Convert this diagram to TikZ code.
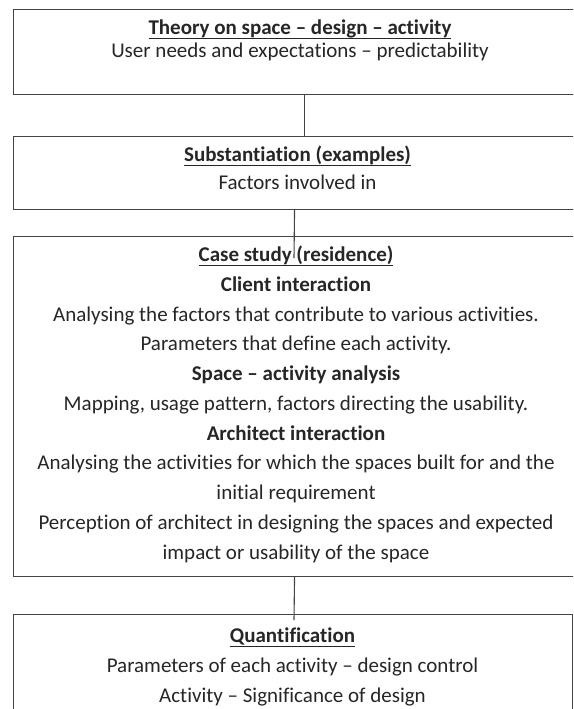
\documentclass[tikz,border=0pt]{standalone}
\usepackage{fontspec}
\setmainfont{Carlito}[Ligatures=NoCommon]
\newcommand\myul[1]{\setbox0\hbox{#1}\rlap{\rule[-4.8pt]{\wd0}{1.1pt}}\box0}
\definecolor{linec}{HTML}{444444}
\definecolor{txtc}{HTML}{262626}
\tikzset{
  boxnode/.style={draw=linec, line width=1.1pt, anchor=north west, inner sep=0pt},
  ln/.style={anchor=base, inner sep=0pt, text=txtc, font=\fontsize{21}{26}\selectfont},
  conn/.style={draw=linec, line width=1.1pt}
}
\begin{document}
\begin{tikzpicture}[x=1pt, y=-1pt]
\clip (0,0) rectangle (573,709);
\useasboundingbox (0,0) rectangle (573,709);
% boxes
\node[boxnode, minimum width=574pt, minimum height=85pt] (b1) at (13,9) {};
\node[boxnode, minimum width=569pt, minimum height=73pt] (b2) at (13,136) {};
\node[boxnode, minimum width=566pt, minimum height=340pt] (b3) at (13,236) {};
\node[boxnode, minimum width=559pt, minimum height=120pt] (b4) at (13,614) {};
% box 1 text
\node[ln] (t1a) at (300,34.5) {\textbf{\myul{Theory on space -- design -- activity}}};
\node[ln] (t1b) at (300,58) {User needs and expectations -- predictability};
% box 2 text
\node[ln] (t2a) at (297.5,161) {\textbf{\myul{Substantiation (examples)}}};
\node[ln] (t2b) at (297.5,189) {Factors involved in};
% box 3 text
\node[ln] (t3a) at (296,261.5) {\textbf{\myul{Case study (residence)}}};
\node[ln] (t3b) at (296,291.25) {\textbf{Client interaction}};
\node[ln] (t3c) at (296,321) {Analysing the factors that contribute to various activities.};
\node[ln] (t3d) at (296,350.75) {Parameters that define each activity.};
\node[ln] (t3e) at (296,380.5) {\textbf{Space -- activity analysis}};
\node[ln] (t3f) at (296,410.25) {Mapping, usage pattern, factors directing the usability.};
\node[ln] (t3g) at (296,440) {\textbf{Architect interaction}};
\node[ln] (t3h) at (296,469.75) {Analysing the activities for which the spaces built for and the};
\node[ln] (t3i) at (296,499.5) {initial requirement};
\node[ln] (t3j) at (296,529.25) {Perception of architect in designing the spaces and expected};
\node[ln] (t3k) at (296,559) {impact or usability of the space};
% box 4 text
\node[ln] (t4a) at (292.5,642) {\textbf{\myul{Quantification}}};
\node[ln] (t4b) at (292.5,672) {Parameters of each activity -- design control};
\node[ln] (t4c) at (292.5,702) {Activity -- Significance of design};
% connectors
\coordinate (c2end) at (294,258);
\coordinate (c3end) at (294,620);
\draw[conn] ([xshift=4pt]b1.south) -- ([xshift=4pt]b1.south |- b2.north);
\draw[conn] ([xshift=-3.5pt]b2.south) -- (c2end);
\draw[conn] ([xshift=-2pt]b3.south) -- (c3end);
\end{tikzpicture}
\end{document}
